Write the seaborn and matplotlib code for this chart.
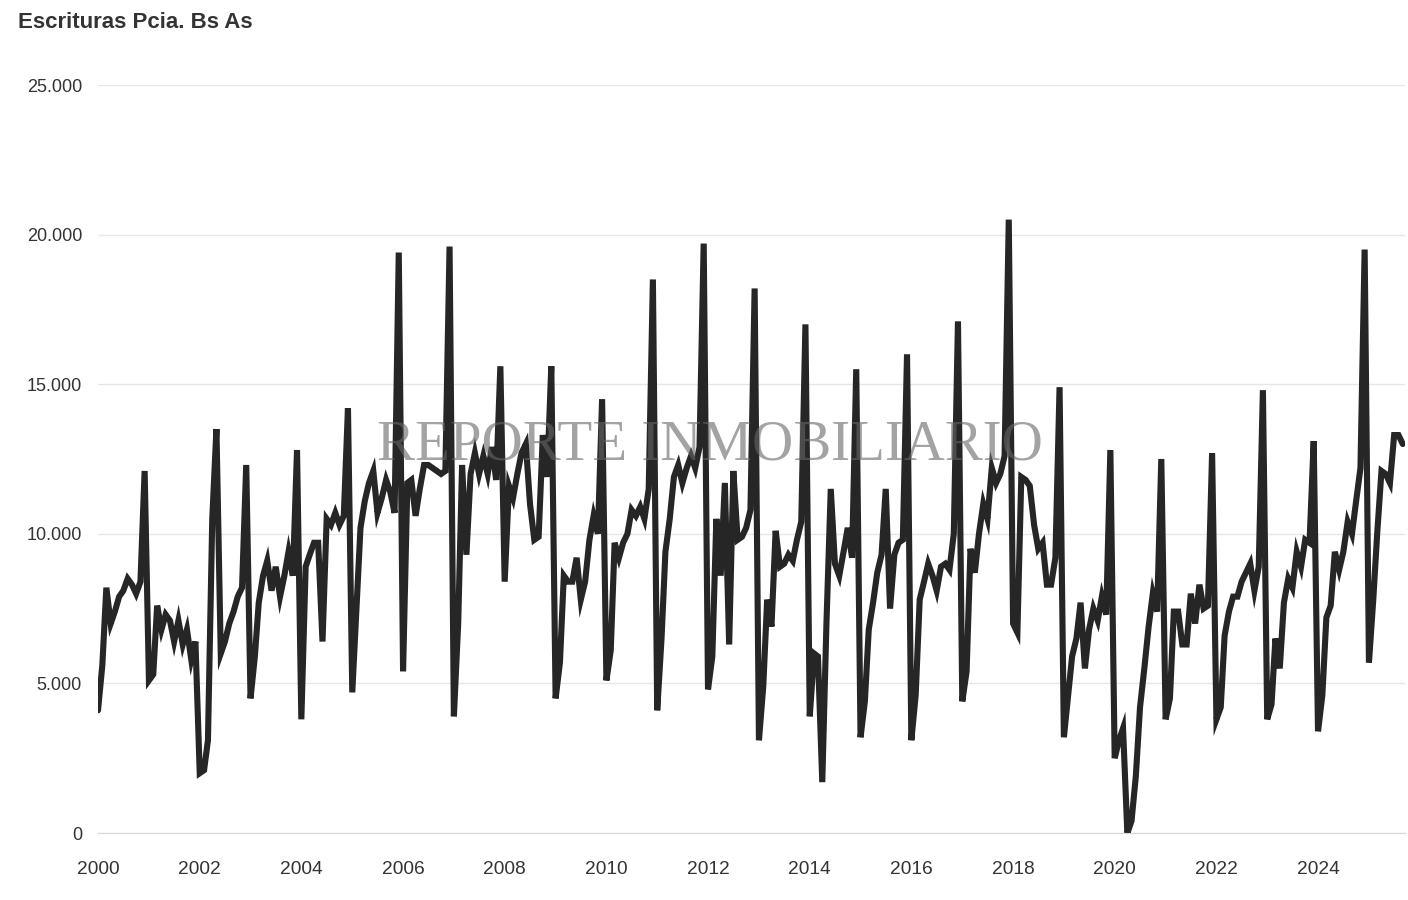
import pandas as pd
import seaborn as sns
import matplotlib.pyplot as plt
import matplotlib.dates as mdates
from matplotlib.ticker import FuncFormatter

# escrituras mensuales, provincia de Buenos Aires (ene-2000 a sep-2025)
y2000 = [4100, 5600, 8200, 7000, 7400, 7900, 8100, 8500, 8300, 8000, 8400, 12100]
y2001 = [5100, 5300, 7600, 6800, 7300, 7100, 6400, 7100, 6300, 6800, 5800, 6400]
y2002 = [2000, 2100, 3100, 10500, 13500, 6000, 6400, 7000, 7400, 7900, 8200, 12300]
y2003 = [4500, 5900, 7700, 8600, 9100, 8100, 8900, 7900, 8600, 9400, 8600, 12800]
y2004 = [3800, 8900, 9300, 9700, 9700, 6400, 10500, 10300, 10700, 10300, 10600, 14200]
y2005 = [4700, 7600, 10200, 11100, 11700, 12100, 10700, 11200, 11800, 11400, 10700, 19400]
y2006 = [5400, 11700, 11800, 10600, 11500, 12300, 12300, 12200, 12100, 12000, 12100, 19600]
y2007 = [3900, 7000, 12300, 9300, 12000, 12700, 12000, 12600, 12000, 12900, 11800, 15600]
y2008 = [8400, 11600, 11200, 12000, 12700, 13000, 11000, 9800, 9900, 13300, 11900, 15600]
y2009 = [4500, 5700, 8600, 8400, 8400, 9200, 7800, 8400, 9800, 10600, 10000, 14500]
y2010 = [5100, 6100, 9700, 9200, 9700, 10000, 10800, 10600, 10900, 10500, 11500, 18500]
y2011 = [4100, 6500, 9400, 10500, 11900, 12300, 11700, 12200, 12600, 12200, 12900, 19700]
y2012 = [4800, 5900, 10500, 8600, 11700, 6300, 12100, 9800, 9900, 10200, 10800, 18200]
y2013 = [3100, 4900, 7800, 6900, 10100, 8900, 9000, 9300, 9100, 9800, 10400, 17000]
y2014 = [3900, 6000, 5900, 1700, 7000, 11500, 9000, 8600, 9400, 10200, 9200, 15500]
y2015 = [3200, 4400, 6800, 7700, 8700, 9300, 11500, 7500, 9300, 9700, 9800, 16000]
y2016 = [3100, 4600, 7800, 8400, 9000, 8600, 8100, 8900, 9000, 8800, 10000, 17100]
y2017 = [4400, 5400, 9500, 8700, 10000, 11000, 10500, 12200, 11700, 12000, 12600, 20500]
y2018 = [7000, 6700, 11900, 11800, 11600, 10300, 9500, 9700, 8300, 8300, 9200, 14900]
y2019 = [3200, 4600, 5900, 6500, 7700, 5500, 6800, 7500, 7100, 7900, 7300, 12800]
y2020 = [2500, 3100, 3500, 0, 400, 1900, 4200, 5500, 6900, 8000, 7400, 12500]
y2021 = [3800, 4500, 7400, 7400, 6300, 6300, 8000, 7000, 8300, 7500, 7600, 12700]
y2022 = [3800, 4200, 6600, 7400, 7900, 7900, 8400, 8700, 9000, 8100, 8900, 14800]
y2023 = [3800, 4300, 6500, 5500, 7700, 8500, 8200, 9400, 8900, 9800, 9700, 13100]
y2024 = [3400, 4600, 7200, 7600, 9400, 8800, 9400, 10400, 10000, 11100, 12200, 19500]
y2025 = [5700, 7800, 10000, 12100, 12000, 11700, 13300, 13300, 13000]

anios = [y2000, y2001, y2002, y2003, y2004, y2005, y2006, y2007, y2008, y2009,
         y2010, y2011, y2012, y2013, y2014, y2015, y2016, y2017, y2018, y2019,
         y2020, y2021, y2022, y2023, y2024, y2025]
valores = [v for a in anios for v in a]
fechas = pd.date_range('2000-01-01', periods=len(valores), freq='MS')
df = pd.DataFrame({'fecha': fechas, 'escrituras': valores})

sns.set_style('white')
plt.rcParams['font.family'] = ['Liberation Sans', 'DejaVu Sans']

W, H = 1408, 900
fig = plt.figure(figsize=(W / 100, H / 100), dpi=100)
ax = fig.add_axes([98 / W, 1 - 833 / H, (1405 - 98) / W, (833 - 85) / H])

sns.lineplot(data=df, x='fecha', y='escrituras', color='#262626', linewidth=4.4, ax=ax)
for ln in ax.lines:
    ln.set_solid_joinstyle('miter')

ax.set_ylim(0, 25000)
ax.set_xlim(pd.Timestamp('2000-01-01'), pd.Timestamp('2025-09-17'))
ax.set_yticks(range(0, 25001, 5000))
ax.yaxis.set_major_formatter(FuncFormatter(lambda v, p: f'{v:,.0f}'.replace(',', '.')))
ax.xaxis.set_major_locator(mdates.YearLocator(2))
ax.xaxis.set_major_formatter(mdates.DateFormatter('%Y'))

ax.grid(axis='y', color='#e6e6e6', linewidth=1)
ax.set_axisbelow(True)
for s in ['top', 'right', 'left']:
    ax.spines[s].set_visible(False)
ax.spines['bottom'].set_color('#ccd6eb')
ax.tick_params(axis='y', length=0, pad=11.5, labelsize=13, labelcolor='#333333')
ax.tick_params(axis='x', length=7, width=1, color='#ccd6eb', pad=13, labelsize=13.8, labelcolor='#333333')
ax.set_xlabel('')
ax.set_ylabel('')

fig.text(18 / W, 1 - 23 / H, 'Escrituras Pcia. Bs As', fontsize=16, fontweight='bold',
         color='#333333', ha='left', va='center')
fig.text(710 / W, 1 - 445 / H, 'REPORTE INMOBILIARIO', family='Liberation Serif', fontsize=41,
         color='#666666', alpha=0.6, ha='center', va='center')

fig.savefig('out.png', dpi=100)
